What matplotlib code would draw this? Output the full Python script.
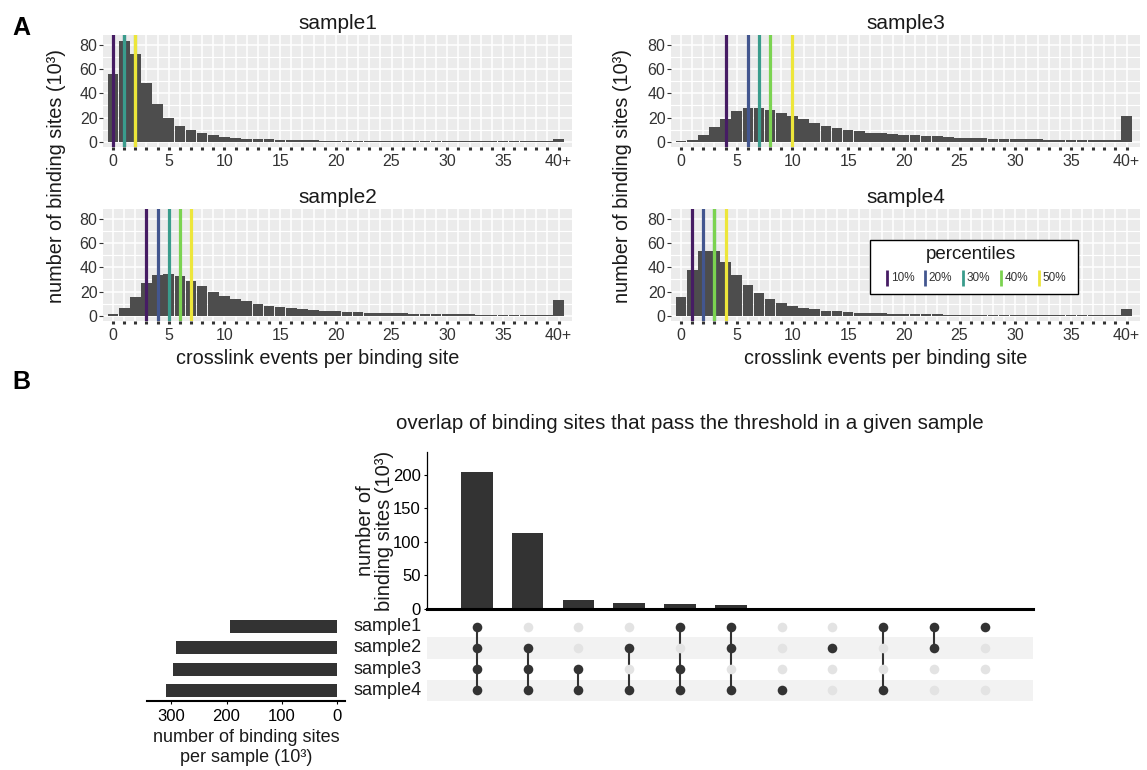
import numpy as np
import matplotlib
matplotlib.use("Agg")
import matplotlib.pyplot as plt
from matplotlib.patches import Rectangle
import matplotlib.transforms as mtrans

plt.rcParams['font.family'] = ['Liberation Sans', 'DejaVu Sans']

# ---------------- data ----------------
bins = list(range(41))  # 0..39 and "40+"
xtick_labels = [str(i) if i % 5 == 0 else '' for i in range(40)] + ['40+']

sample1 = [56, 83.7, 72.3, 49, 31.2, 19.3, 13, 9.3, 6.8, 5.4,
           3.7, 3.4, 2.5, 2.0, 2.0, 1.5, 1.5, 1.0, 1.0, 0.9,
           0.9, 0.8, 0.8, 0.8, 0.7, 0.7, 0.7, 0.7, 0.6, 0.6,
           0.6, 0.6, 0.6, 0.5, 0.5, 0.5, 0.5, 0.5, 0.5, 0.5,
           2.0]
sample2 = [1.4, 6.5, 15.8, 26.8, 33.5, 34.6, 32.7, 28.5, 24.2, 20.0,
           16.6, 14.1, 12.1, 9.9, 8.2, 7.3, 6.5, 5.6, 4.8, 4.2,
           4.0, 3.1, 3.1, 2.3, 2.3, 2.3, 2.0, 1.4, 1.4, 1.4,
           1.4, 1.4, 1.4, 0.7, 0.8, 0.8, 0.5, 0.5, 0.5, 0.5,
           13.2]
sample3 = [0.8, 1.7, 5.6, 11.9, 19.2, 25.1, 27.7, 27.7, 26.0, 23.4,
           20.9, 18.6, 15.8, 13.3, 11.6, 9.9, 9.0, 7.3, 7.3, 6.6,
           5.7, 5.2, 4.8, 4.5, 4.0, 3.2, 3.1, 3.0, 2.4, 2.3,
           2.3, 2.3, 2.2, 1.5, 1.4, 1.4, 1.4, 1.4, 1.4, 1.4,
           21.0]
sample4 = [15.3, 38.0, 53.3, 53.3, 44.8, 33.7, 25.2, 18.4, 14.2, 10.8,
           8.2, 6.5, 5.7, 4.0, 4.0, 3.1, 2.3, 2.2, 2.0, 1.5,
           1.5, 1.5, 1.5, 1.5, 0.8, 0.8, 0.8, 0.7, 0.7, 0.7,
           0.7, 0.7, 0.6, 0.6, 0.6, 0.6, 0.6, 0.6, 0.5, 0.5,
           5.5]

percentile_names = ['10%', '20%', '30%', '40%', '50%']
percentile_colors = ['#461C64', '#43568F', '#3A9C8C', '#7BD350', '#EDE63A']
pct_sample1 = [0, 1, 1, 2, 2]
pct_sample2 = [3, 4, 5, 6, 7]
pct_sample3 = [4, 6, 7, 8, 10]
pct_sample4 = [1, 2, 3, 3, 4]

set_names = ['sample1', 'sample2', 'sample3', 'sample4']
set_sizes = [193, 291, 297, 310]
intersection_counts = [204, 113, 13.5, 9.3, 7.9, 6.4, 0.5, 0.4, 0.3, 0.3, 0.2]
intersection_members = [
    [0, 1, 2, 3], [1, 2, 3], [2, 3], [1, 3], [0, 2, 3], [0, 1, 3],
    [3], [1], [0, 3], [0, 1], [0],
]

# ---------------- figure ----------------
W, H = 1147, 770
fig = plt.figure(figsize=(W / 100, H / 100), dpi=100)
fig.patch.set_facecolor('white')


def rect(x0, y0, x1, y1):
    return [x0 / W, 1 - y1 / H, (x1 - x0) / W, (y1 - y0) / H]


TXT = '#1A1A1A'
TICKC = '#333333'

panels = [
    ('sample1', sample1, pct_sample1, (103, 35, 572, 147), False),
    ('sample3', sample3, pct_sample3, (671, 35, 1140, 147), False),
    ('sample2', sample2, pct_sample2, (103, 209, 572, 321), True),
    ('sample4', sample4, pct_sample4, (671, 209, 1140, 321), True),
]

hist_axes = {}
for name, vals, pct, box, bottom in panels:
    ax = fig.add_axes(rect(*box))
    hist_axes[name] = ax
    ax.set_facecolor('#EBEBEB')
    for s in ax.spines.values():
        s.set_visible(False)
    ax.set_axisbelow(True)
    ax.bar(bins, vals, width=0.96, color='#4D4D4D', zorder=2)
    for v, c in zip(pct, percentile_colors):
        ax.axvline(v, color=c, lw=2.3, zorder=3)
    ax.set_xlim(-0.9, 41.2)
    ax.set_ylim(-4.4, 88.4)
    ax.set_xticks(bins)
    ax.set_xticklabels(xtick_labels)
    ax.set_yticks([0, 20, 40, 60, 80])
    ax.set_yticks([10, 30, 50, 70], minor=True)
    ax.grid(which='major', color='white', lw=1.1, zorder=0)
    ax.grid(which='minor', axis='y', color='white', lw=0.8, zorder=0)
    ax.tick_params(axis='x', which='major', length=2.0, width=2.2, color=TICKC,
                   pad=3, labelsize=11.5, labelcolor='#333333')
    ax.tick_params(axis='y', which='major', length=3, width=0.8, color=TICKC,
                   pad=1, labelsize=11.5, labelcolor='#333333')
    ax.tick_params(axis='y', which='minor', length=0)
    ax.set_title(name, fontsize=15, color=TXT, pad=4)
    if bottom:
        ax.set_xlabel('crosslink events per binding site', fontsize=14.3,
                      color=TXT, labelpad=2)
        ax.xaxis.set_label_coords(0.458, -0.25)

for xc in (57, 622):
    fig.text(xc / W, 1 - 176 / H, 'number of binding sites (10³)', rotation=90,
             ha='center', va='center', fontsize=14.3, color=TXT)

# legend inside sample4
axl = hist_axes['sample4']
axl.add_patch(Rectangle((17.0, 18.3), 18.6, 44.6, facecolor='white',
                        edgecolor='black', lw=1.0, zorder=6))
axl.text(26.0, 50.5, 'percentiles', ha='center', va='center', fontsize=13.5,
         color=TXT, zorder=7)
for j, (lab, c) in enumerate(zip(percentile_names, percentile_colors)):
    xj = 18.5 + 3.4 * j
    axl.plot([xj, xj], [25.0, 38.0], color=c, lw=2.0, zorder=7,
             solid_capstyle='butt')
    axl.text(xj + 0.35, 31.4, lab, ha='left', va='center', fontsize=8.5,
             color='#333333', zorder=7)

fig.text(12 / W, 1 - 28 / H, 'A', fontsize=18, fontweight='bold', va='center')
fig.text(12 / W, 1 - 382 / H, 'B', fontsize=18, fontweight='bold', va='center')

# ---------------- UpSet ----------------
cols = np.arange(len(intersection_counts))
XL = (-0.98, 10.95)

fig.text(690 / W, 1 - 424 / H,
         'overlap of binding sites that pass the threshold in a given sample',
         ha='center', va='center', fontsize=14.8, color=TXT)

axb = fig.add_axes(rect(427, 452, 1033, 609))
axb.bar(cols, intersection_counts, width=0.62, color='#333333')
axb.set_xlim(*XL)
axb.set_ylim(0, 234)
for s in ('top', 'right'):
    axb.spines[s].set_visible(False)
axb.spines['left'].set_linewidth(0.9)
axb.spines['bottom'].set_linewidth(2.2)
axb.set_xticks([])
axb.set_yticks([0, 50, 100, 150, 200])
axb.tick_params(axis='y', length=2.5, width=0.8, pad=2, labelsize=12)
axb.set_ylabel('number of\nbinding sites (10³)', fontsize=14.5, color=TXT,
               linespacing=0.95)
axb.yaxis.set_label_coords(-0.055, 0.5)

axm = fig.add_axes(rect(427, 616, 1033, 701))
axm.set_xlim(*XL)
axm.set_ylim(len(set_names) - 0.5, -0.5)
axm.axis('off')
for i in range(len(set_names)):
    if i % 2 == 1:
        axm.axhspan(i - 0.5, i + 0.5, color='#F2F2F2', zorder=0, lw=0)
for c, members in zip(cols, intersection_members):
    for i in range(len(set_names)):
        col = '#333333' if i in members else '#E3E3E3'
        axm.scatter([c], [i], s=48, color=col, zorder=3, lw=0)
    if len(members) > 1:
        axm.plot([c, c], [min(members), max(members)], color='#333333',
                 lw=1.5, zorder=2)

tr = mtrans.blended_transform_factory(fig.transFigure, axm.transData)
for i, nm in enumerate(set_names):
    axm.text(353 / W, i, nm, transform=tr, ha='left', va='center',
             fontsize=13, color=TXT, clip_on=False)

axs = fig.add_axes(rect(147, 616, 345, 701))
axs.barh(range(len(set_names)), set_sizes, height=0.62, color='#333333')
axs.set_xlim(344, -14.5)
axs.set_ylim(len(set_names) - 0.5, -0.5)
for s in ('top', 'right', 'left'):
    axs.spines[s].set_visible(False)
axs.spines['bottom'].set_linewidth(1.5)
axs.set_yticks([])
axs.set_xticks([300, 200, 100, 0])
axs.tick_params(axis='x', length=2.5, width=0.8, pad=3, labelsize=12)
axs.set_xlabel('number of binding sites\nper sample (10³)', fontsize=13,
               color=TXT, linespacing=1.25, labelpad=4)

fig.savefig('out.png', dpi=100)
